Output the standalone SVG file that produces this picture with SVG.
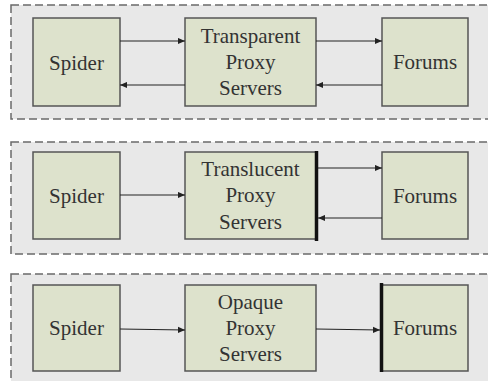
<svg xmlns="http://www.w3.org/2000/svg" width="488" height="381" viewBox="0 0 488 381">
<defs>
<marker id="ah" viewBox="0 0 8 8" refX="8" refY="4" markerWidth="7" markerHeight="7" markerUnits="userSpaceOnUse" orient="auto">
<path d="M0,0.5 L8,4 L0,7.5 Z" fill="#222"/>
</marker>
<style>
.panel{fill:#e8e8e8;stroke:#6a6a6a;stroke-width:1.5;stroke-dasharray:8 4}
.box{fill:#dde2cc;stroke:#555;stroke-width:1.5}
.c{stroke:#222;stroke-width:1.2;fill:none;marker-end:url(#ah)}
.bar{stroke:#111;stroke-width:3.5}
</style>
</defs>
<rect width="488" height="381" fill="#ffffff"/>
<g id="panels">
<rect class="panel" x="11" y="5" width="490" height="114"/>
<rect class="panel" x="11" y="142" width="490" height="112"/>
<rect class="panel" x="11" y="274" width="490" height="120"/>
</g>
<g font-family="Liberation Serif" font-size="21" fill="#333" text-anchor="middle">
<g id="p1-spider"><rect class="box" x="33" y="18" width="87" height="88"/><text x="76.5" y="69.5">Spider</text></g>
<g id="p1-proxy"><rect class="box" x="185" y="18" width="131" height="88"/><text x="250.5" y="42.5">Transparent</text><text x="250.5" y="68.5">Proxy</text><text x="250.5" y="95">Servers</text></g>
<g id="p1-forums"><rect class="box" x="382" y="18" width="86" height="88"/><text x="425" y="69">Forums</text></g>
<g id="p2-spider"><rect class="box" x="33" y="152" width="87" height="87"/><text x="76.5" y="203">Spider</text></g>
<g id="p2-proxy"><rect class="box" x="185" y="152" width="131" height="87"/><text x="250.5" y="176">Translucent</text><text x="250.5" y="202">Proxy</text><text x="250.5" y="228.5">Servers</text></g>
<g id="p2-forums"><rect class="box" x="382" y="152" width="86" height="87"/><text x="425" y="203">Forums</text></g>
<g id="p3-spider"><rect class="box" x="33" y="285" width="87" height="86"/><text x="76.5" y="335">Spider</text></g>
<g id="p3-proxy"><rect class="box" x="185" y="285" width="131" height="86"/><text x="250.5" y="308.5">Opaque</text><text x="250.5" y="334.5">Proxy</text><text x="250.5" y="361">Servers</text></g>
<g id="p3-forums"><rect class="box" x="382" y="285" width="86" height="86"/><text x="425" y="335">Forums</text></g>
</g>
<g id="connectors">
<line class="c" x1="120" y1="41" x2="185" y2="41"/>
<line class="c" x1="185" y1="85" x2="120" y2="85"/>
<line class="c" x1="316" y1="41" x2="382" y2="41"/>
<line class="c" x1="382" y1="85" x2="316" y2="85"/>
<line class="c" x1="120" y1="195" x2="185" y2="195"/>
<line class="c" x1="317" y1="168" x2="382" y2="168"/>
<line class="c" x1="382" y1="218" x2="318" y2="218"/>
<line class="bar" x1="316.5" y1="151" x2="316.5" y2="241"/>
<line class="c" x1="120" y1="329" x2="185" y2="330"/>
<line class="c" x1="316" y1="329" x2="380" y2="330"/>
<line class="bar" x1="381.5" y1="283" x2="381.5" y2="372"/>
</g>
</svg>
